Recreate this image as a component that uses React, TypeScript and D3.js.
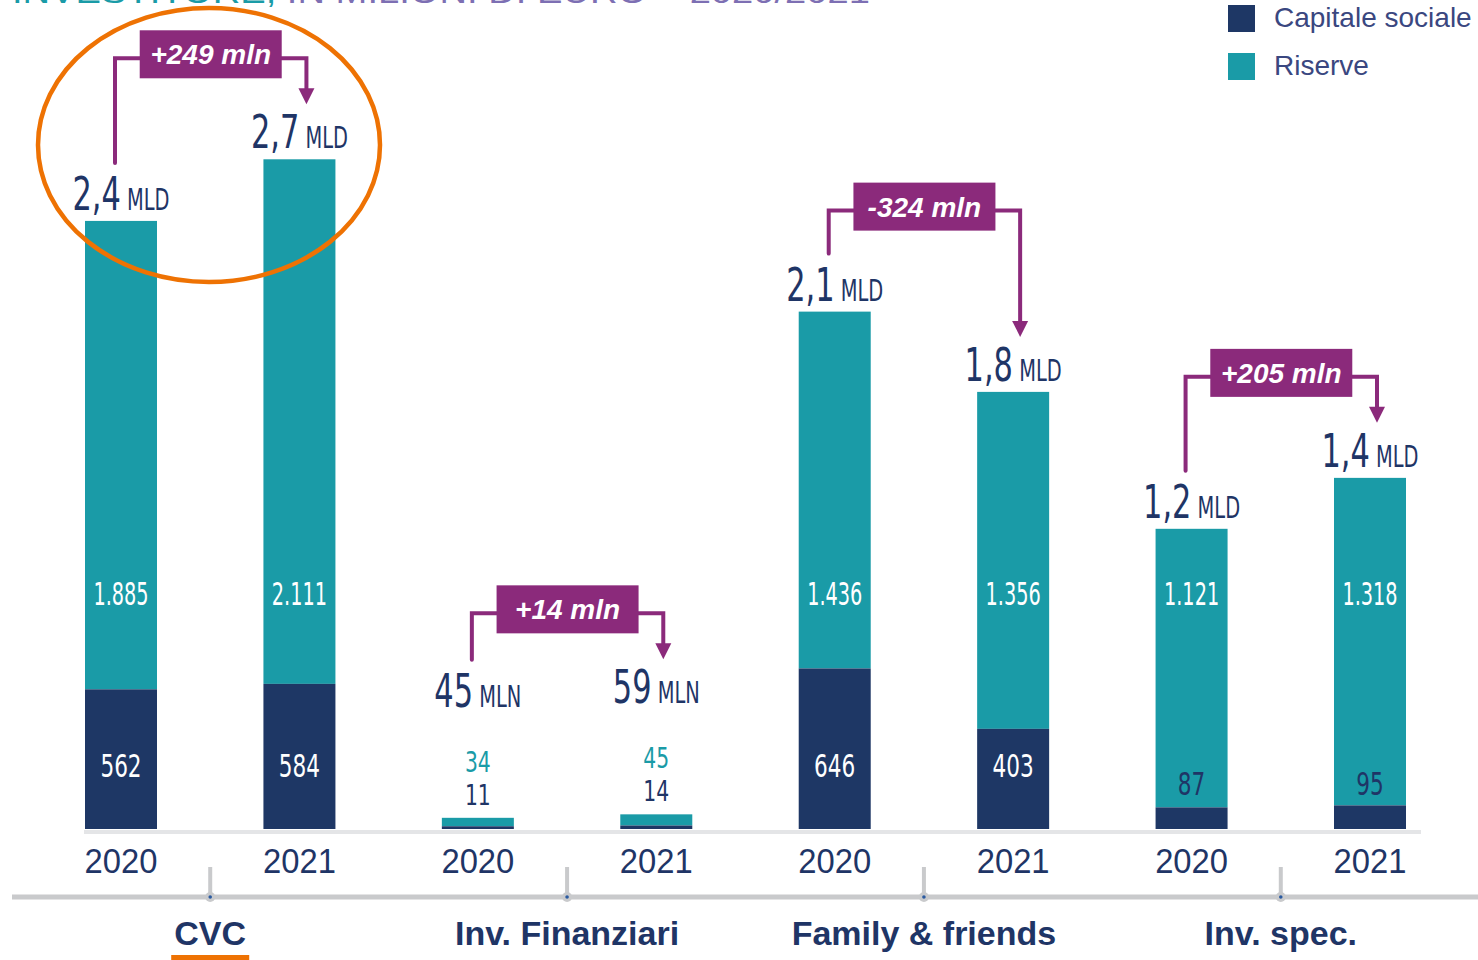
import React from "react";
import * as d3 from "d3";

const categories = ["CVC", "Inv. Finanziari", "Family & friends", "Inv. spec."];
const years = ["2020", "2021"];
const capitaleSociale = [562, 584, 11, 14, 646, 403, 87, 95];
const riserve = [1885, 2111, 34, 45, 1436, 1356, 1121, 1318];
const totalLabels = ["2,4", "2,7", "45", "59", "2,1", "1,8", "1,2", "1,4"];
const totalUnits = ["MLD", "MLD", "MLN", "MLN", "MLD", "MLD", "MLD", "MLD"];
const changeLabels = ["+249 mln", "+14 mln", "-324 mln", "+205 mln"];
const legendLabels = ["Capitale sociale", "Riserve"];
const titleParts = ["INVESTITORE, ", "IN MILIONI DI EURO – 2020/2021"];

const NAVY = "#1e3765";
const TEAL = "#1a9ba7";
const PURPLE = "#8b2a7b";
const ORANGE = "#ee7203";
const GRAY = "#c9cacc";
const LIGHTGRAY = "#e4e5e7";
const TEXT = "#1f3566";
const LEGEND_TEXT = "#3a4780";
const COND = "'Liberation Sans Narrow', 'DejaVu Sans Condensed', 'Liberation Sans', sans-serif";
const SANS = "'Liberation Sans', Arial, sans-serif";

const itLocale = d3.formatLocale({ decimal: ",", thousands: ".", grouping: [3], currency: ["€", ""] });
const fmt = itLocale.format(",d");

export default function App() {
  const W = 1478, H = 960;
  const base = 829;
  const barW = 72;
  const ids = d3.range(capitaleSociale.length);
  const x = d3.scalePoint<number>().domain(ids).range([121, 1370]);
  const y = d3.scaleLinear().domain([0, 3000]).range([base, base - 3000 * 0.2485]);

  const totals = ids.map((i) => capitaleSociale[i] + riserve[i]);
  const isSmall = (i: number) => base - y(totals[i]) < 40;
  const labelBase = (i: number) => (isSmall(i) ? y(totals[i]) - 111 : y(totals[i]) - 11);
  const labelTop = (i: number) => labelBase(i) - 34;

  const catX = (c: number) => ((x(2 * c) as number) + (x(2 * c + 1) as number)) / 2;

  return (
    <svg width={W} height={H} style={{ position: "absolute", left: 0, top: 0, background: "#fff" }}>
      {/* cut-off title */}
      <text x={12} y={3} fontFamily={SANS} fontSize={32} textLength={858} lengthAdjust="spacingAndGlyphs">
        <tspan fill={TEAL}>{titleParts[0]}</tspan>
        <tspan fill="#7d6fb3">{titleParts[1]}</tspan>
      </text>

      {/* legend */}
      {legendLabels.map((l, i) => (
        <g key={l} transform={`translate(1228, ${5 + i * 48})`}>
          <rect width={27} height={27} fill={i === 0 ? NAVY : TEAL} />
          <text x={46} y={22} fontFamily={SANS} fontSize={28} fill={LEGEND_TEXT}>{l}</text>
        </g>
      ))}

      {/* baseline */}
      <line x1={84} x2={1421} y1={base + 3} y2={base + 3} stroke={LIGHTGRAY} strokeWidth={4} />

      {/* bars */}
      {ids.map((i) => {
        const cx = x(i) as number;
        const yc = y(capitaleSociale[i]);
        const yt = y(totals[i]);
        return (
          <g key={i}>
            <rect x={cx - barW / 2} y={yt} width={barW} height={yc - yt} fill={TEAL} />
            <rect x={cx - barW / 2} y={yc} width={barW} height={base - yc} fill={NAVY} />
          </g>
        );
      })}

      {/* segment labels */}
      {ids.map((i) => {
        const cx = x(i) as number;
        const yt = y(totals[i]);
        if (isSmall(i)) {
          return (
            <g key={i} fontFamily={COND} fontSize={29} textAnchor="middle">
              <text transform={`translate(${cx},${yt - 46}) scale(0.78,1)`} fill={TEAL}>{fmt(riserve[i])}</text>
              <text transform={`translate(${cx},${yt - 13}) scale(0.78,1)`} fill={TEXT}>{fmt(capitaleSociale[i])}</text>
            </g>
          );
        }
        const capH = base - y(capitaleSociale[i]);
        const capSmall = capH < 40;
        return (
          <g key={i} fontFamily={COND} fontSize={32} textAnchor="middle">
            <text transform={`translate(${cx},${base - 224}) scale(0.67,1)`} fill="#fff">{fmt(riserve[i])}</text>
            <text
              transform={`translate(${cx},${capSmall ? base - 34 : base - 52}) scale(0.75,1)`}
              fill={capSmall ? TEXT : "#fff"}
            >
              {fmt(capitaleSociale[i])}
            </text>
          </g>
        );
      })}

      {/* total labels */}
      {ids.map((i) => (
        <text
          key={i}
          transform={`translate(${x(i)},${labelBase(i)}) scale(0.72,1)`}
          textAnchor="middle"
          fontFamily={COND}
          fill={TEXT}
        >
          <tspan fontSize={47}>{totalLabels[i]}</tspan>
          <tspan fontSize={30}>{" " + totalUnits[i]}</tspan>
        </text>
      ))}

      {/* change arrows */}
      {categories.map((c, k) => {
        const l = 2 * k, r = 2 * k + 1;
        const xl = (x(l) as number) - 6;
        const xr = (x(r) as number) + 7;
        const lineY = Math.min(labelTop(l), labelTop(r)) - 56;
        const leftEnd = labelTop(l) - 13;
        const tip = labelTop(r) - 10;
        const mid = (xl + xr) / 2;
        const bw = 142;
        return (
          <g key={c}>
            <path
              d={`M${xl},${leftEnd} V${lineY} H${xr} V${tip - 14}`}
              fill="none"
              stroke={PURPLE}
              strokeWidth={4}
              strokeLinecap="round"
              strokeLinejoin="miter"
            />
            <path d={`M${xr - 8},${tip - 16} L${xr + 8},${tip - 16} L${xr},${tip} Z`} fill={PURPLE} />
            <rect x={mid - bw / 2} y={lineY - 28} width={bw} height={48} fill={PURPLE} />
            <text
              x={mid}
              y={lineY + 6}
              textAnchor="middle"
              fontFamily={SANS}
              fontWeight="bold"
              fontStyle="italic"
              fontSize={28}
              fill="#fff"
            >
              {changeLabels[k]}
            </text>
          </g>
        );
      })}

      {/* year labels */}
      {ids.map((i) => (
        <text
          key={i}
          transform={`translate(${x(i)},873) scale(0.91,1)`}
          textAnchor="middle"
          fontFamily={SANS}
          fontSize={36}
          fill={TEXT}
        >
          {years[i % 2]}
        </text>
      ))}

      {/* lower axis */}
      <line x1={12} x2={W} y1={897} y2={897} stroke={GRAY} strokeWidth={5} />
      {categories.map((c, k) => (
        <g key={c}>
          <line x1={catX(k)} x2={catX(k)} y1={867} y2={897} stroke={GRAY} strokeWidth={4} />
          <circle cx={catX(k)} cy={897} r={5} fill={GRAY} />
          <circle cx={catX(k)} cy={897} r={1.8} fill="#2b5aa0" />
          <text
            x={catX(k)}
            y={945}
            textAnchor="middle"
            fontFamily={SANS}
            fontWeight="bold"
            fontSize={34}
            fill={TEXT}
          >
            {c}
          </text>
        </g>
      ))}
      <rect x={catX(0) - 39} y={955} width={78} height={8} fill={ORANGE} />

      {/* highlight ellipse */}
      <ellipse cx={209} cy={145} rx={171} ry={137} fill="none" stroke={ORANGE} strokeWidth={4.5} />
    </svg>
  );
}
